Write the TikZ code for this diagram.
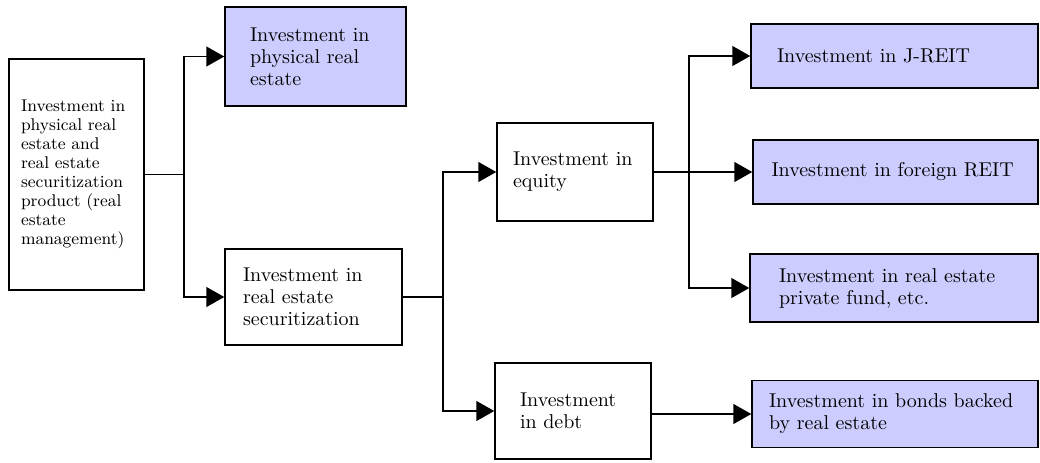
\documentclass[tikz,border=0pt]{standalone}
\usetikzlibrary{arrows.meta}
\definecolor{boxblue}{RGB}{204,204,255}
\begin{document}
\begin{tikzpicture}[
	x=0.5pt, y=-0.5pt,
	box/.style={draw, line width=0.75pt, align=left, inner sep=0pt, font=\fontsize{10}{11}\selectfont},
	goal/.style={box, fill=boxblue},
	link/.style={line width=0.75pt},
	arr/.style={line width=0.75pt, -{Triangle[length=9pt,width=10pt]}}
	]
\useasboundingbox (0,0) rectangle (1040,462);

\node[box, minimum width=67.5pt, minimum height=115.5pt, text width=55.5pt, font=\fontsize{8.5}{9.5}\selectfont] at (76.5,174.5) (mgmt){Investment in\\physical real\\estate and\\real estate\\securitization\\product (real\\estate\\management)};
\node[goal, minimum width=90.5pt, minimum height=49.5pt, text width=65.5pt] at (315.5,56.5) (phys){Investment in\\physical real\\estate};
\node[box, minimum width=88.5pt, minimum height=48pt, text width=70.5pt] at (313.5,297) (secu){Investment in\\real estate\\securitization};
\node[box, minimum width=78pt, minimum height=49pt, text width=62pt] at (575,172) (equity){Investment in\\equity};
\node[box, minimum width=78pt, minimum height=48pt, text width=53pt] at (573,411) (debt){Investment\\in debt};
\node[goal, minimum width=143.5pt, minimum height=32pt, text width=117.5pt] at (894.5,56) (jreit){Investment in J-REIT};
\node[goal, minimum width=142.5pt, minimum height=32pt, text width=124pt] at (895.5,172) (freit){Investment in foreign REIT};
\node[goal, minimum width=144pt, minimum height=34pt, text width=115pt] at (894,288) (fund){Investment in real estate\\private fund, etc.};
\node[goal, minimum width=143pt, minimum height=33.5pt, text width=126pt] at (895,414) (bond){Investment in bonds backed\\by real estate};

\coordinate (j1) at (184,174.5);
\coordinate (j2) at (443,297);
\coordinate (j3) at (689,172);

\draw[link] (mgmt) -- (j1);
\draw[arr] (j1) |- (phys);
\draw[arr] (j1) |- (secu);
\draw[link] (secu) -- (j2);
\draw[arr] (j2) |- (equity);
\draw[arr] (j2) |- (debt);
\draw[link] (equity) -- (j3);
\draw[arr] (j3) |- (jreit);
\draw[arr] (j3) |- (freit);
\draw[arr] (j3) |- (fund);
\draw[arr] (debt.east |- bond.west) -- (bond.west);

\end{tikzpicture}
\end{document}
